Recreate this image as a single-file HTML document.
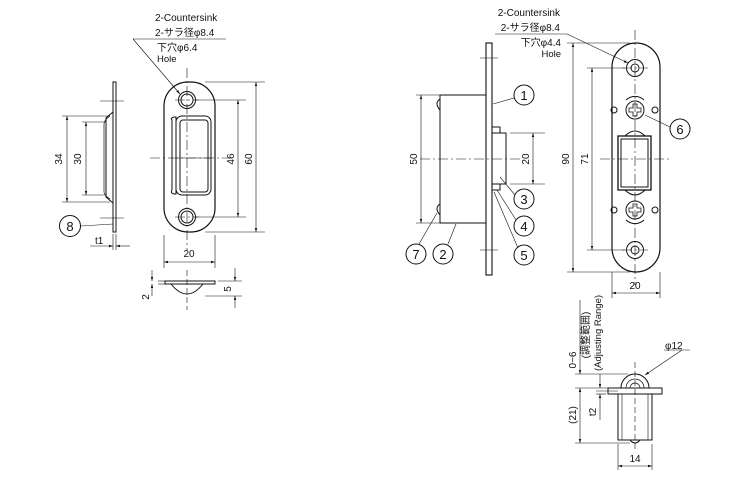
<!DOCTYPE html>
<html><head><meta charset="utf-8"><style>
html,body{margin:0;padding:0;background:#fff}
svg{display:block}
text{font-family:"Liberation Sans","Noto Sans CJK JP",sans-serif;fill:#111}
</style></head><body>
<svg width="750" height="479" viewBox="0 0 750 479" xmlns="http://www.w3.org/2000/svg">
<defs>
<marker id="a" viewBox="0 0 10 10" refX="10" refY="5" markerWidth="7" markerHeight="7" orient="auto-start-reverse"><path d="M0,2 L10,5 L0,8 z" fill="#111"/></marker>
</defs>
<g stroke="#111" stroke-width="1" fill="none">
<!-- ===== LEFT FRONT PLATE ===== -->
<rect x="164" y="82" width="51" height="150" rx="24" stroke-width="1.2"/>
<circle cx="187" cy="100" r="8.5"/><circle cx="187" cy="100" r="6"/>
<circle cx="187" cy="217" r="8.5"/><circle cx="187" cy="217" r="6"/>
<path d="M172,120 Q170,118 174,117 L176,117 L176,194 L174,194 Q170,193 172,190 Z"/>
<rect x="176" y="116" width="35" height="79" rx="6"/>
<rect x="180" y="120" width="28" height="72" rx="3"/>
<line x1="176" y1="158" x2="211" y2="158" stroke-width="0.6"/>
<g stroke-width="0.6" stroke-dasharray="10,3,2,3">
<line x1="187" y1="68" x2="187" y2="250"/>
<line x1="150" y1="158" x2="232" y2="158"/>
<line x1="175" y1="100" x2="199" y2="100"/>
<line x1="175" y1="217" x2="199" y2="217"/>
</g>
<g stroke-width="0.6">
<line x1="205" y1="82" x2="265" y2="82"/><line x1="205" y1="232" x2="265" y2="232"/>
<line x1="256" y1="82" x2="256" y2="232" marker-start="url(#a)" marker-end="url(#a)"/>
<line x1="196" y1="100" x2="246" y2="100"/><line x1="196" y1="217" x2="246" y2="217"/>
<line x1="238" y1="100" x2="238" y2="217" marker-start="url(#a)" marker-end="url(#a)"/>
<line x1="164" y1="235" x2="164" y2="268"/><line x1="215" y1="235" x2="215" y2="268"/>
<line x1="164" y1="262" x2="215" y2="262" marker-start="url(#a)" marker-end="url(#a)"/>
<line x1="133" y1="39" x2="226" y2="39"/>
<line x1="133" y1="39" x2="180" y2="94" marker-end="url(#a)"/>
</g>
<!-- ===== LEFT SIDE VIEW ===== -->
<rect x="113" y="82" width="3" height="150"/>
<path d="M113,112 L106,118 L106,197 L113,203"/>
<path d="M110,116 Q104,120 104,124 L104,192 Q104,195 110,199" stroke-width="0.7"/>
<g stroke-width="0.6">
<line x1="100" y1="101" x2="124" y2="101"/><line x1="100" y1="218" x2="124" y2="218"/>
<line x1="62" y1="116" x2="110" y2="116"/><line x1="62" y1="202" x2="110" y2="202"/>
<line x1="67" y1="116" x2="67" y2="202" marker-start="url(#a)" marker-end="url(#a)"/>
<line x1="82" y1="122" x2="106" y2="122"/><line x1="82" y1="195" x2="106" y2="195"/>
<line x1="86" y1="122" x2="86" y2="195" marker-start="url(#a)" marker-end="url(#a)"/>
<line x1="113" y1="234" x2="113" y2="250"/><line x1="116" y1="234" x2="116" y2="250"/>
<line x1="90" y1="246" x2="113" y2="246" marker-end="url(#a)"/>
<line x1="130" y1="246" x2="116" y2="246" marker-end="url(#a)"/>
<line x1="81" y1="226" x2="113" y2="224"/>
</g>
<circle cx="70" cy="226" r="10.5"/>
<!-- ===== LEFT BOTTOM VIEW ===== -->
<rect x="165" y="281" width="50" height="3"/>
<path d="M171,284 Q187,304 203,284"/>
<g stroke-width="0.6">
<line x1="187" y1="270" x2="187" y2="310" stroke-dasharray="6,3"/>
<line x1="158" y1="281" x2="165" y2="281"/><line x1="158" y1="284" x2="165" y2="284"/>
<line x1="152" y1="270" x2="152" y2="281" marker-end="url(#a)"/>
<line x1="152" y1="296" x2="152" y2="284" marker-end="url(#a)"/>
<line x1="218" y1="281" x2="242" y2="281"/><line x1="205" y1="296" x2="242" y2="296"/>
<line x1="235" y1="268" x2="235" y2="281" marker-end="url(#a)"/>
<line x1="235" y1="308" x2="235" y2="296" marker-end="url(#a)"/>
</g>
<!-- ===== MIDDLE SIDE VIEW ===== -->
<rect x="486" y="43" width="6" height="232" stroke-width="1.1"/>
<rect x="440" y="95" width="46" height="128"/>
<path d="M440,99 Q434,103 440,110"/><path d="M440,204 Q434,208 440,215"/>
<rect x="492" y="133" width="14" height="51"/>
<rect x="492" y="127" width="8" height="6"/><rect x="492" y="184" width="8" height="6"/>
<g stroke-width="0.6">
<line x1="416" y1="95" x2="440" y2="95"/><line x1="416" y1="223" x2="440" y2="223"/>
<line x1="421" y1="95" x2="421" y2="223" marker-start="url(#a)" marker-end="url(#a)"/>
<line x1="510" y1="133" x2="545" y2="133"/><line x1="510" y1="184" x2="545" y2="184"/>
<line x1="533" y1="133" x2="533" y2="184" marker-start="url(#a)" marker-end="url(#a)"/>
<line x1="420" y1="159" x2="520" y2="159" stroke-dasharray="10,3,2,3"/>
<line x1="480" y1="58" x2="498" y2="58"/><line x1="480" y1="250" x2="498" y2="250"/>
<line x1="514" y1="98" x2="493" y2="104"/>
<line x1="515" y1="195" x2="500" y2="177"/>
<line x1="516" y1="220" x2="497" y2="190"/>
<line x1="518" y1="248" x2="494" y2="192"/>
<line x1="419" y1="244" x2="437" y2="213"/>
<line x1="448" y1="244" x2="456" y2="224"/>
</g>
<circle cx="524" cy="95" r="10"/><circle cx="524" cy="199" r="10"/>
<circle cx="524" cy="226" r="10"/><circle cx="524" cy="255" r="10"/>
<circle cx="416" cy="254" r="10"/><circle cx="443" cy="254" r="10"/>
<circle cx="680" cy="129" r="10"/>
<!-- ===== RIGHT FRONT VIEW ===== -->
<rect x="612" y="43" width="48" height="229" rx="24" stroke-width="1.2"/>
<circle cx="635" cy="68" r="8.5"/><circle cx="635" cy="68" r="4"/>
<circle cx="635" cy="250" r="8.5"/><circle cx="635" cy="250" r="4"/>
<circle cx="635" cy="110" r="9"/><circle cx="635" cy="210" r="9"/>
<path d="M626,100 A13,13 0 0 1 644,100 M626,220 A13,13 0 0 0 644,220"/>
<path d="M633,104 h4 v4 h4 v4 h-4 v4 h-4 v-4 h-4 v-4 h4 z M633,204 h4 v4 h4 v4 h-4 v4 h-4 v-4 h-4 v-4 h4 z" stroke-width="0.8"/>
<circle cx="614" cy="110" r="3"/><circle cx="655" cy="110" r="3"/>
<circle cx="614" cy="210" r="3"/><circle cx="655" cy="210" r="3"/>
<rect x="618" y="136" width="33" height="54" stroke-width="1.3"/>
<rect x="621" y="139" width="27" height="48"/>
<path d="M625,136 Q635,126 645,136 M625,190 Q635,200 645,190"/>
<g stroke-width="0.6" stroke-dasharray="10,3,2,3">
<line x1="635" y1="30" x2="635" y2="285"/>
<line x1="600" y1="159" x2="670" y2="159"/>
<line x1="622" y1="68" x2="648" y2="68"/><line x1="622" y1="250" x2="648" y2="250"/>
</g>
<g stroke-width="0.6">
<line x1="567" y1="43" x2="630" y2="43"/><line x1="567" y1="272" x2="630" y2="272"/>
<line x1="573" y1="43" x2="573" y2="272" marker-start="url(#a)" marker-end="url(#a)"/>
<line x1="587" y1="68" x2="625" y2="68"/><line x1="587" y1="250" x2="625" y2="250"/>
<line x1="592" y1="68" x2="592" y2="250" marker-start="url(#a)" marker-end="url(#a)"/>
<line x1="612" y1="272" x2="612" y2="298"/><line x1="660" y1="272" x2="660" y2="298"/>
<line x1="612" y1="293" x2="660" y2="293" marker-start="url(#a)" marker-end="url(#a)"/>
<line x1="495" y1="34" x2="567" y2="34"/>
<line x1="567" y1="34" x2="628" y2="63" marker-end="url(#a)"/>
<line x1="670" y1="127" x2="645" y2="115"/>
</g>
<!-- ===== RIGHT BOTTOM VIEW ===== -->
<rect x="608" y="388" width="54" height="6"/>
<rect x="618" y="394" width="34" height="46"/>
<line x1="622" y1="394" x2="622" y2="440" stroke-width="0.6"/><line x1="648" y1="394" x2="648" y2="440" stroke-width="0.6"/>
<path d="M621,388 A14,14 0 0 1 649,388"/>
<path d="M626,388 A9,9 0 0 1 644,388" stroke-width="0.7"/>
<path d="M630,388 A5,5 0 0 1 640,388" stroke-width="0.7"/>
<path d="M630,440 Q635,446 640,440"/>
<g stroke-width="0.6">
<line x1="635" y1="362" x2="635" y2="452" stroke-dasharray="6,3"/>
<line x1="575" y1="374" x2="628" y2="374"/><line x1="575" y1="388" x2="608" y2="388"/>
<line x1="575" y1="443" x2="630" y2="443"/>
<line x1="580" y1="300" x2="580" y2="374" marker-end="url(#a)"/>
<line x1="580" y1="388" x2="580" y2="443" marker-start="url(#a)" marker-end="url(#a)"/>
<line x1="596" y1="391" x2="618" y2="391"/>
<line x1="600" y1="374" x2="600" y2="388" marker-end="url(#a)"/>
<line x1="600" y1="420" x2="600" y2="394" marker-end="url(#a)"/>
<line x1="596" y1="394" x2="606" y2="394"/>
<line x1="618" y1="444" x2="618" y2="470"/><line x1="652" y1="444" x2="652" y2="470"/>
<line x1="618" y1="466" x2="652" y2="466" marker-start="url(#a)" marker-end="url(#a)"/>
<line x1="682" y1="350" x2="645" y2="375" marker-end="url(#a)"/>
<line x1="664" y1="350" x2="690" y2="350"/>
</g>
</g>
<!-- ===== TEXT ===== -->
<g font-size="10">
<text x="155" y="21">2-Countersink</text>
<text x="155" y="36">2-サラ径φ8.4</text>
<text x="157" y="51">下穴φ6.4</text>
<text x="157" y="62" font-size="9.5">Hole</text>
<text x="560" y="16" text-anchor="end">2-Countersink</text>
<text x="560" y="31" text-anchor="end">2-サラ径φ8.4</text>
<text x="561" y="46" text-anchor="end">下穴φ4.4</text>
<text x="561" y="57" text-anchor="end" font-size="9.5">Hole</text>
<text x="189" y="257" text-anchor="middle">20</text>
<text x="635" y="289" text-anchor="middle">20</text>
<text x="635" y="462" text-anchor="middle">14</text>
<text x="95" y="244">t1</text>
<text x="665" y="349">φ12</text>
<g text-anchor="middle">
<text transform="translate(62,159) rotate(-90)">34</text>
<text transform="translate(81,159) rotate(-90)">30</text>
<text transform="translate(234,159) rotate(-90)">46</text>
<text transform="translate(252,159) rotate(-90)">60</text>
<text transform="translate(149,297) rotate(-90)">2</text>
<text transform="translate(231,289) rotate(-90)">5</text>
<text transform="translate(417,159) rotate(-90)">50</text>
<text transform="translate(529,159) rotate(-90)">20</text>
<text transform="translate(569,159) rotate(-90)">90</text>
<text transform="translate(588,159) rotate(-90)">71</text>
<text transform="translate(576,360) rotate(-90)">0~6</text>
<text transform="translate(576,415) rotate(-90)">(21)</text>
<text transform="translate(596,412) rotate(-90)">t2</text>
<text transform="translate(589,335) rotate(-90)">(調整範囲)</text>
<text transform="translate(601,333) rotate(-90)" font-size="9.5">(Adjusting Range)</text>
</g>
<g font-size="13" text-anchor="middle">
<text x="70" y="231">8</text>
<text x="524" y="100">1</text><text x="524" y="204">3</text>
<text x="524" y="231">4</text><text x="524" y="260">5</text>
<text x="416" y="259">7</text><text x="443" y="259">2</text>
<text x="680" y="134">6</text>
</g>
</g>
</svg>
</body></html>
